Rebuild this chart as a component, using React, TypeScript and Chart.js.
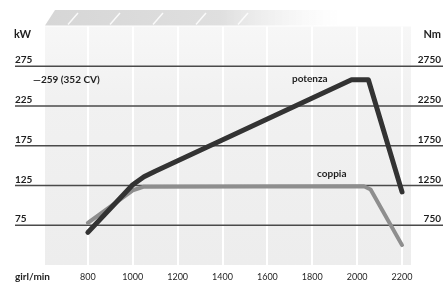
import React, { useEffect, useRef } from "react";
import { Chart, registerables } from "chart.js";

Chart.register(...registerables);

// rpm ticks
const rpmTicks = [800, 1000, 1200, 1400, 1600, 1800, 2000, 2200];
// kW / Nm tick labels
const kwTicks = [75, 125, 175, 225, 275];
const nmTicks = [750, 1250, 1750, 2250, 2750];

// potenza (kW)
const potenzaRpm = [800, 1000, 1050, 1100, 1975, 2050, 2200];
const potenzaKw = [66, 126, 136, 143, 258, 258, 117];

// coppia (Nm)
const coppiaRpm = [800, 1000, 1050, 2030, 2060, 2200];
const coppiaNm = [780, 1190, 1235, 1240, 1200, 500];

const FONT = "Lato, 'DejaVu Sans', sans-serif";

const decoPlugin = {
  id: "deco",
  beforeDatasetsDraw(chart: any) {
    const { ctx, chartArea } = chart;
    const x = chart.scales.x;
    const y = chart.scales.y;
    ctx.save();
    // panel
    const pg = ctx.createLinearGradient(0, chartArea.top, 0, chartArea.bottom);
    pg.addColorStop(0, "#f7f7f7");
    pg.addColorStop(0.3, "#f1f1f1");
    pg.addColorStop(1, "#ededed");
    ctx.fillStyle = pg;
    ctx.fillRect(chartArea.left + 2, chartArea.top, chartArea.right - chartArea.left - 2, chartArea.bottom - chartArea.top);
    // top band
    const bandTop = 10;
    const bandBot = chartArea.top - 1;
    const grad = ctx.createLinearGradient(chartArea.left, 0, 340, 0);
    grad.addColorStop(0, "#d6d6d6");
    grad.addColorStop(0.6, "#dfdfdf");
    grad.addColorStop(1, "rgba(240,240,240,0)");
    ctx.fillStyle = grad;
    ctx.beginPath();
    ctx.moveTo(chartArea.left + 12, bandTop);
    ctx.lineTo(340, bandTop);
    ctx.lineTo(340, bandBot);
    ctx.lineTo(chartArea.left + 2, bandBot);
    ctx.closePath();
    ctx.fill();
    ctx.strokeStyle = "rgba(255,255,255,0.85)";
    ctx.lineWidth = 1.5;
    for (const sx of [70, 112, 155, 198, 240]) {
      ctx.beginPath();
      ctx.moveTo(sx + 8, bandTop + 3);
      ctx.lineTo(sx - 2, bandBot - 1);
      ctx.stroke();
    }
    // vertical white lines
    ctx.strokeStyle = "#ffffff";
    ctx.lineWidth = 2;
    for (const r of rpmTicks) {
      const px = Math.round(x.getPixelForValue(r));
      ctx.beginPath();
      ctx.moveTo(px, chartArea.top);
      ctx.lineTo(px, chartArea.bottom);
      ctx.stroke();
    }
    // horizontal dark lines
    ctx.strokeStyle = "#4a4a4a";
    ctx.lineWidth = 1.4;
    for (const v of kwTicks) {
      const py = y.getPixelForValue(v);
      ctx.beginPath();
      ctx.moveTo(15, py);
      ctx.lineTo(443, py);
      ctx.stroke();
    }
    ctx.restore();
  },
  afterDraw(chart: any) {
    const { ctx } = chart;
    const x = chart.scales.x;
    const y = chart.scales.y;
    ctx.save();
    ctx.fillStyle = "#1f1f1f";
    ctx.textBaseline = "alphabetic";
    ctx.font = `bold 10px ${FONT}`;
    kwTicks.forEach((v, i) => {
      const py = y.getPixelForValue(v);
      ctx.textAlign = "left";
      ctx.fillText(String(v), 15, py - 3);
      ctx.textAlign = "right";
      ctx.fillText(String(nmTicks[i]), 441, py - 3);
    });
    ctx.font = `bold 11px ${FONT}`;
    ctx.textAlign = "left";
    ctx.fillText("kW", 14, 38);
    ctx.textAlign = "right";
    ctx.fillText("Nm", 441, 38);
    // x labels
    ctx.font = `9px ${FONT}`;
    ctx.textAlign = "center";
    for (const r of rpmTicks) {
      ctx.fillText(String(r), x.getPixelForValue(r), 280);
    }
    ctx.font = `bold 10px ${FONT}`;
    ctx.textAlign = "left";
    ctx.fillText("girl/min", 15, 280);
    // annotations
    ctx.fillText("\u2014259 (352 CV)", 33, 83);
    ctx.fillText("potenza", 292, 82);
    ctx.fillText("coppia", 317, 177);
    ctx.restore();
  },
};

export default function App() {
  const ref = useRef<HTMLCanvasElement>(null);
  useEffect(() => {
    document.body.style.margin = "0";
    const chart = new Chart(ref.current as HTMLCanvasElement, {
      type: "line",
      data: {
        datasets: [
          {
            label: "potenza",
            data: potenzaRpm.map((r, i) => ({ x: r, y: potenzaKw[i] })),
            yAxisID: "y",
            borderColor: "#333333",
            borderWidth: 5,
            pointRadius: 0,
            borderCapStyle: "round",
            borderJoinStyle: "round",
            tension: 0,
          },
          {
            label: "coppia",
            data: coppiaRpm.map((r, i) => ({ x: r, y: coppiaNm[i] })),
            yAxisID: "y2",
            borderColor: "#8e8e8e",
            borderWidth: 4,
            pointRadius: 0,
            borderCapStyle: "round",
            borderJoinStyle: "round",
            tension: 0,
          },
        ],
      },
      options: {
        animation: false,
        responsive: false,
        layout: { padding: { left: 43, right: 37, top: 26.5, bottom: 17 } },
        plugins: { legend: { display: false }, tooltip: { enabled: false } },
        scales: {
          x: { type: "linear", min: 600, max: 2240, display: false },
          y: { type: "linear", min: 25, max: 325, display: false },
          y2: { type: "linear", min: 250, max: 3250, display: false },
        },
      },
      plugins: [decoPlugin],
    } as any);
    return () => chart.destroy();
  }, []);
  return (
    <div style={{ position: "fixed", left: 0, top: 0, width: 448, height: 282, background: "#fff" }}>
      <canvas ref={ref} width={448} height={282} />
    </div>
  );
}
